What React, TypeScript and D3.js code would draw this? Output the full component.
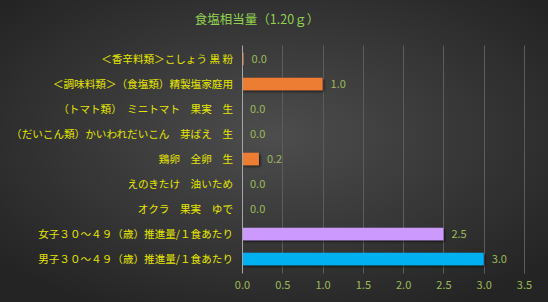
import React, { useEffect, useRef } from "react";
import * as d3 from "d3";

const categories = [
  "＜香辛料類＞こしょう 黒 粉",
  "＜調味料類＞（食塩類）精製塩家庭用",
  "（トマト類）　ミニトマト　果実　生",
  "（だいこん類）かいわれだいこん　芽ばえ　生",
  "鶏卵　全卵　生",
  "えのきたけ　油いため",
  "オクラ　果実　ゆで",
  "女子３０～４９（歳）推進量/１食あたり",
  "男子３０～４９（歳）推進量/１食あたり",
];
const values = [0.02, 1.0, 0, 0, 0.21, 0, 0, 2.5, 3.0];
const barColors = ["#ED7D31", "#ED7D31", "#ED7D31", "#ED7D31", "#ED7D31", "#ED7D31", "#ED7D31", "#CC99FF", "#00B0F0"];
const xTicks = [0, 0.5, 1, 1.5, 2, 2.5, 3, 3.5];
const title = "食塩相当量（1.20ｇ）";

const W = 548;
const H = 302;
const margin = { top: 46.5, left: 242, right: 24, bottom: 30.5 };

const App = () => {
  const ref = useRef<SVGSVGElement>(null);

  useEffect(() => {
    document.body.style.margin = "0";
    const svg = d3.select(ref.current);
    svg.selectAll("*").remove();

    const defs = svg.append("defs");
    const bg = defs.append("radialGradient").attr("id", "bg")
      .attr("cx", "50%").attr("cy", "45%").attr("r", "65%");
    bg.append("stop").attr("offset", "0%").attr("stop-color", "#4d4d4d");
    bg.append("stop").attr("offset", "100%").attr("stop-color", "#242424");
    const sh = defs.append("filter").attr("id", "sh")
      .attr("x", "-10%").attr("y", "-30%").attr("width", "130%").attr("height", "180%");
    sh.append("feDropShadow").attr("dx", 1.5).attr("dy", 1.5).attr("stdDeviation", 1)
      .attr("flood-color", "#000").attr("flood-opacity", 0.6);

    svg.append("rect").attr("width", W).attr("height", H).attr("fill", "url(#bg)");

    const x = d3.scaleLinear().domain([0, 3.5]).range([margin.left, W - margin.right]);
    const y = d3.scaleBand().domain(categories).range([margin.top, H - margin.bottom]).paddingInner(0.5).paddingOuter(0.25);

    const font = "'Noto Sans CJK JP', sans-serif";

    svg.append("text").attr("x", 257).attr("y", 24).attr("text-anchor", "middle")
      .attr("fill", "#92D050").attr("font-family", font).attr("font-size", 12.5).text(title);

    // gridlines
    svg.append("g").selectAll("line").data(xTicks.slice(1)).join("line")
      .attr("x1", (d) => Math.round(x(d)) + 0.5).attr("x2", (d) => Math.round(x(d)) + 0.5)
      .attr("y1", margin.top - 1).attr("y2", H - margin.bottom + 2)
      .attr("stroke", "#5c5c5c").attr("stroke-width", 1);

    // bars
    svg.append("g").selectAll("rect").data(values).join("rect")
      .attr("x", x(0)).attr("y", (_, i) => y(categories[i])!)
      .attr("width", (d) => Math.max(x(d) - x(0), d > 0 ? 1.5 : 0)).attr("height", y.bandwidth())
      .attr("fill", (_, i) => barColors[i]).attr("filter", "url(#sh)");

    // zero axis
    svg.append("line").attr("x1", Math.round(x(0)) + 0.5).attr("x2", Math.round(x(0)) + 0.5)
      .attr("y1", margin.top - 1).attr("y2", H - margin.bottom + 2)
      .attr("stroke", "#a6a6a6").attr("stroke-width", 1);

    // value labels
    svg.append("g").selectAll("text").data(values).join("text")
      .attr("x", (d) => x(d) + 8).attr("y", (_, i) => y(categories[i])! + y.bandwidth() / 2)
      .attr("dy", "0.35em").attr("fill", "#9BBB59").attr("font-family", font).attr("font-size", 11)
      .text((d) => d.toFixed(1));

    // category labels
    svg.append("g").selectAll("text").data(categories).join("text")
      .attr("x", 233).attr("y", (d) => y(d)! + y.bandwidth() / 2)
      .attr("dy", "0.35em").attr("text-anchor", "end").attr("fill", "#E6E600")
      .attr("font-family", font).attr("font-size", 10.6).text((d) => d);

    // x ticks
    const xAxis = svg.append("g").attr("transform", `translate(0,${H - margin.bottom})`)
      .call(d3.axisBottom(x).tickValues(xTicks).tickFormat((d) => (d as number).toFixed(1)).tickSize(0).tickPadding(10));
    xAxis.select(".domain").remove();
    xAxis.selectAll("text").attr("fill", "#9BBB59").attr("font-family", font).attr("font-size", 11);
  }, []);

  return (
    <div style={{ position: "absolute", left: 0, top: 0 }}>
      <svg ref={ref} width={W} height={H} style={{ display: "block" }} />
    </div>
  );
};

export default App;
